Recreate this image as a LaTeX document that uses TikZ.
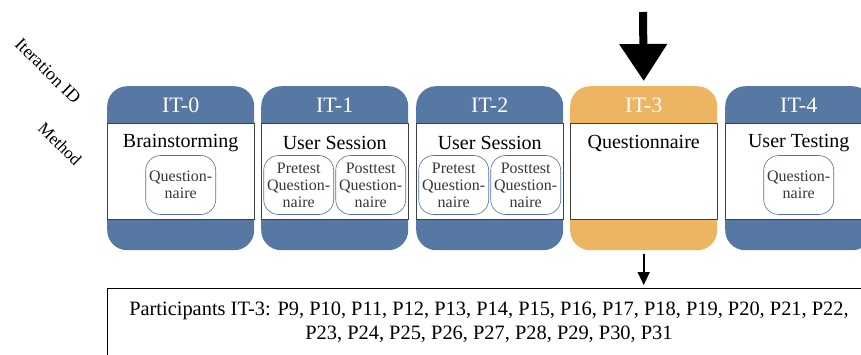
\documentclass[tikz,border=0pt]{standalone}
\usepackage{fontspec}
\setmainfont{Liberation Serif}
\usetikzlibrary{arrows.meta,positioning}
\definecolor{stageblue}{HTML}{5878A4}
\definecolor{stageorange}{HTML}{EDB461}
\definecolor{bandline}{HTML}{404040}
\definecolor{subline}{HTML}{4F72A8}
\definecolor{subtext}{HTML}{383838}
\tikzset{
  stage/.style={rounded corners=20pt, minimum width=147pt, minimum height=164pt,
    inner sep=0pt, anchor=north west, draw=none},
  band/.style={draw=bandline, line width=0.9pt, fill=white, minimum width=147pt,
    minimum height=96pt, inner sep=0pt, anchor=north},
  itlabel/.style={text=white, font=\fontsize{22}{26}\selectfont, inner sep=0pt},
  methodtitle/.style={font=\fontsize{20}{24}\selectfont, inner sep=0pt},
  subbox/.style={draw=subline, line width=0.6pt, rounded corners=15pt,
    minimum width=70pt, minimum height=59pt, inner sep=0pt, align=center,
    text=subtext, font=\fontsize{16}{17}\selectfont},
  sidelabel/.style={rotate=-45, font=\fontsize{18}{22}\selectfont, inner sep=0pt},
}
\begin{document}
\begin{tikzpicture}[x=1pt,y=-1pt]
\useasboundingbox (0,0) rectangle (861,354);

% axis labels on the left
\node[sidelabel] (iterid) at (48,71) {Iteration ID};
\node[sidelabel, font=\fontsize{17}{20}\selectfont] (methodlbl) at (60,144) {Method};

% iteration columns
\node[stage, fill=stageblue]   (s0) at (107,86) {};
\node[stage, fill=stageblue]   (s1) at (261,86) {};
\node[stage, fill=stageblue]   (s2) at (416,86) {};
\node[stage, fill=stageorange] (s3) at (570,86) {};
\node[stage, fill=stageblue]   (s4) at (725,86) {};

\foreach \i in {0,...,4}{
  \node[band] (b\i) at ([yshift=-37pt]s\i.north) {};
}

\node[itlabel] (l0) at ([yshift=-19pt]s0.north) {IT-0};
\node[itlabel] (l1) at ([yshift=-19pt]s1.north) {IT-1};
\node[itlabel] (l2) at ([yshift=-19pt]s2.north) {IT-2};
\node[itlabel] (l3) at ([yshift=-19pt]s3.north) {IT-3};
\node[itlabel] (l4) at ([yshift=-19pt]s4.north) {IT-4};

\node[methodtitle] (t0) at ([yshift=-20pt]b0.north) {Brainstorming};
\node[methodtitle] (t1) at ([yshift=-20pt]b1.north) {User Session};
\node[methodtitle] (t2) at ([yshift=-20pt]b2.north) {User Session};
\node[methodtitle] (t3) at ([yshift=-20pt]b3.north) {Questionnaire};
\node[methodtitle] (t4) at ([yshift=-20pt]b4.north) {User Testing};

% instruments used within each method
\node[subbox] (q0)  at ([yshift=-62pt]b0.north) {Question-\\naire};
\node[subbox] (pre1) at ([xshift=-36pt,yshift=-62pt]b1.north) {Pretest\\Question-\\naire};
\node[subbox] (post1) at ([xshift=36pt,yshift=-62pt]b1.north) {Posttest\\Question-\\naire};
\node[subbox] (pre2) at ([xshift=-36pt,yshift=-62pt]b2.north) {Pretest\\Question-\\naire};
\node[subbox] (post2) at ([xshift=36pt,yshift=-62pt]b2.north) {Posttest\\Question-\\naire};
\node[subbox] (q4)  at ([yshift=-62pt]b4.north) {Question-\\naire};

% participants of the highlighted iteration
\node[draw=black, line width=0.9pt, minimum width=764pt, minimum height=100pt,
  inner sep=0pt, anchor=north west] (part) at (107,288) {};
\node[align=center, inner sep=0pt, font=\fontsize{20.4}{24}\selectfont] (parttext) at (489,322)
  {Participants IT-3: P9, P10, P11, P12, P13, P14, P15, P16, P17, P18, P19, P20, P21, P22,\\
   P23, P24, P25, P26, P27, P28, P29, P30, P31};

% current-iteration marker
\coordinate (marktop) at (643,12);
\draw[line width=8pt, -{Triangle[width=46pt,length=37pt]}] (marktop) -- ([yshift=5pt]s3.north);

\draw[line width=1.6pt, -{Triangle[width=12pt,length=13pt]}, shorten <=4pt, shorten >=3pt]
  (s3.south) -- (s3.south |- part.north);
\end{tikzpicture}
\end{document}
